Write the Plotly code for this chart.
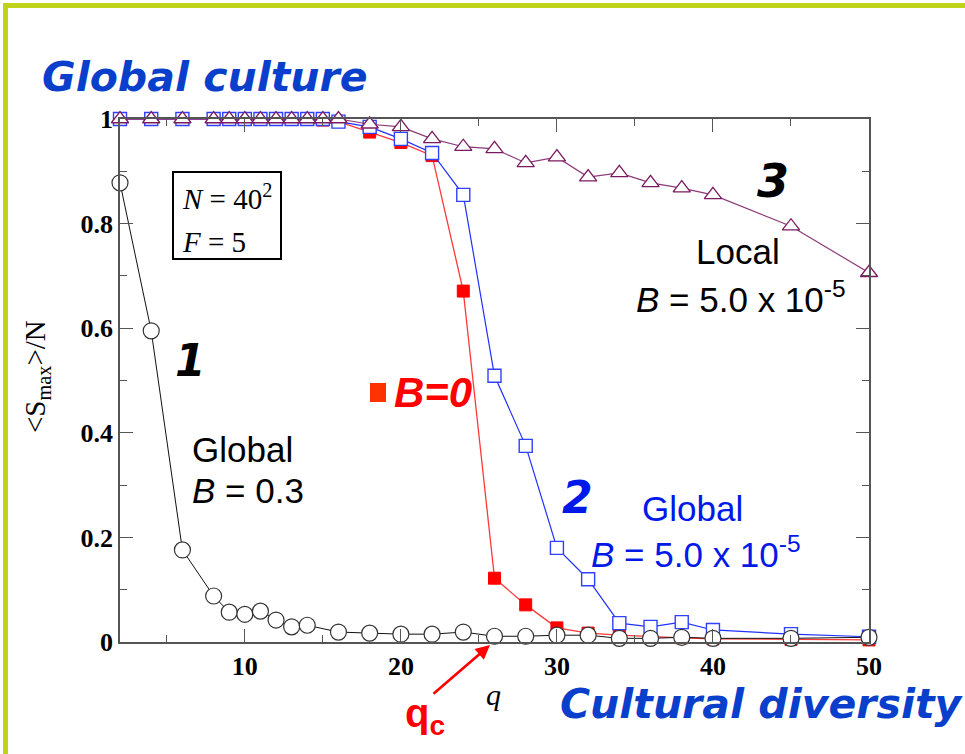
import plotly.graph_objects as go

# ---- data: <S_max>/N versus number of traits q ----
q_global_strong = [2, 4, 6, 8, 9, 10, 11, 12, 13, 14, 16, 18, 20, 22, 24, 26, 28, 30, 32, 34, 36, 38, 40, 45, 50]
s_global_strong = [0.878, 0.595, 0.176, 0.088, 0.057, 0.053, 0.059, 0.042, 0.029, 0.032, 0.019, 0.017,
                   0.015, 0.015, 0.019, 0.011, 0.011, 0.013, 0.013, 0.007, 0.007, 0.009, 0.007, 0.007, 0.009]

q_grid = [2, 4, 6, 8, 9, 10, 11, 12, 13, 14, 15, 16, 18, 20, 22, 24, 26, 28, 30, 32, 34, 36, 38, 40, 45, 50]
s_no_field = [1, 1, 1, 1, 1, 1, 1, 1, 1, 1, 0.998, 0.995, 0.975, 0.955, 0.93, 0.671, 0.122, 0.071,
              0.027, 0.017, 0.013, 0.010, 0.008, 0.006, 0.005, 0.004]
s_global_weak = [1, 1, 1, 1, 1, 1, 1, 1, 1, 1, 1, 0.995, 0.985, 0.962, 0.935, 0.855, 0.509, 0.375,
                 0.18, 0.12, 0.036, 0.029, 0.038, 0.023, 0.015, 0.01]
s_local_weak = [1, 1, 1, 1, 1, 1, 1, 1, 1, 1, 1, 1, 0.99, 0.985, 0.962, 0.947, 0.943, 0.916,
                0.927, 0.889, 0.897, 0.878, 0.868, 0.855, 0.795, 0.706]

x_ticks = [10, 20, 30, 40, 50]
y_ticks = [0, 0.2, 0.4, 0.6, 0.8, 1]
y_tick_text = ["0", "0.2", "0.4", "0.6", "0.8", "1"]

# ---- page geometry (pixels) ----
W, H = 965, 754
L, R, T, B = 120, 869, 119, 642


def px(x, y):
    """pixel position on the page -> paper coordinates"""
    return (x - L) / (R - L), 1 - (y - T) / (B - T)


SERIF = "Liberation Serif, Times New Roman, serif"
SANS = "Liberation Sans, Arial, sans-serif"
FUN = "Comic Sans MS, DejaVu Sans, sans-serif"

fig = go.Figure()

fig.add_trace(go.Scatter(
    x=q_grid, y=s_no_field, mode="lines+markers", cliponaxis=False,
    line=dict(color="#ff3838", width=1.3),
    marker=dict(symbol="square", size=12, color="#ff0000", line=dict(color="#ff0000", width=1)),
    showlegend=False))
fig.add_trace(go.Scatter(
    x=q_grid, y=s_global_weak, mode="lines+markers", cliponaxis=False,
    line=dict(color="#2030ff", width=1.2),
    marker=dict(symbol="square", size=13, color="white", line=dict(color="#3040ff", width=1.4)),
    showlegend=False))
fig.add_trace(go.Scatter(
    x=q_global_strong, y=s_global_strong, mode="lines+markers", cliponaxis=False,
    line=dict(color="#111111", width=1),
    marker=dict(symbol="circle", size=16, color="white", line=dict(color="#333333", width=1.2)),
    showlegend=False))
fig.add_trace(go.Scatter(
    x=q_grid, y=s_local_weak, mode="lines+markers", cliponaxis=False,
    line=dict(color="#8a3a78", width=1.2),
    marker=dict(symbol="triangle-up", size=15, color="white", line=dict(color="#7a1a60", width=1.3)),
    showlegend=False))

axis_common = dict(
    showline=True, linecolor="#555555", linewidth=1.5, mirror="allticks",
    ticks="inside", ticklen=13, tickcolor="#555555", tickwidth=1.3,
    showgrid=False, zeroline=False,
    tickfont=dict(family=SERIF, size=26, color="black", weight="bold"),
)

fig.update_xaxes(range=[2, 50], tickvals=x_ticks,
                 minor=dict(ticks="inside", ticklen=7, dtick=5, tick0=0, tickcolor="#555555", showgrid=False),
                 **axis_common)
fig.update_yaxes(range=[0, 1], tickvals=y_ticks, ticktext=y_tick_text,
                 minor=dict(ticks="inside", ticklen=7, dtick=0.1, tick0=0, tickcolor="#555555", showgrid=False),
                 **axis_common)

ann = []


def text(x, y, s, size, color="black", family=SANS, xanchor="left", angle=0):
    xp, yp = px(x, y)
    ann.append(dict(x=xp, y=yp, xref="paper", yref="paper", text=s, showarrow=False,
                    xanchor=xanchor, yanchor="middle", textangle=angle,
                    font=dict(family=family, size=size, color=color)))


BLUE_TITLE = "#0a3fcc"
text(40, 77, "<b><i>Global culture</i></b>", 41, BLUE_TITLE, FUN)
text(558, 704, "<b><i>Cultural diversity</i></b>", 41, BLUE_TITLE, FUN)

# axis titles
text(37, 377, "&lt;S<sub>max</sub>&gt;/N", 29, "black", SERIF, "center", -90)
text(493, 694, "<i>q</i>", 30, "black", SERIF, "center")

# curve labels
text(190, 360, "<b><i>1</i></b>", 44, "black", FUN, "center")
text(190, 449, "Global", 35)
text(190, 490, "<i>B</i> = 0.3", 35)

text(392, 392, "<b><i>B=0</i></b>", 42, "#ff0000", SANS)

text(577, 497, "<b><i>2</i></b>", 44, "#0018e8", FUN, "center")
text(640, 508, "Global", 35, "#0018e8")
text(589, 552, "<i>B</i> = 5.0 x 10<sup>-5</sup>", 35, "#0018e8")

text(773, 181, "<b><i>3</i></b>", 46, "black", FUN, "center")
text(694, 251, "Local", 35)
text(634, 297, "<i>B</i> = 5.0 x 10<sup>-5</sup>", 35)

# model parameters in the box
text(180, 197, "<i>N</i> = 40<sup>2</sup>", 29, "black", SERIF)
text(180, 242, "<i>F</i> = 5", 29, "black", SERIF)

# critical point marker
text(425, 716, "<b>q<sub>c</sub></b>", 40, "#ff0000", SANS, "center")
hx, hy = px(490, 645)
ann.append(dict(x=hx, y=hy, xref="paper", yref="paper", text="", showarrow=True,
                ax=-58, ay=50, arrowhead=2, arrowsize=1.1, arrowwidth=2.6, arrowcolor="#ff0000"))

shapes = []


def rect(x0, y0, x1, y1, **kw):
    a, b = px(x0, y0)
    c, d = px(x1, y1)
    shapes.append(dict(type="rect", xref="paper", yref="paper", x0=a, y0=b, x1=c, y1=d, **kw))


rect(173, 172, 281, 259, line=dict(color="black", width=2), fillcolor="white", layer="below")
rect(370, 383, 386, 402, line=dict(width=0), fillcolor="#ff3300")
# slide frame
rect(3, 3, 1000, 8, line=dict(width=0), fillcolor="#bfd31a")
rect(3, 3, 8, 800, line=dict(width=0), fillcolor="#bfd31a")

fig.update_layout(
    width=W, height=H,
    margin=dict(l=L, r=W - R, t=T, b=H - B),
    paper_bgcolor="white", plot_bgcolor="white",
    annotations=ann, shapes=shapes,
)

fig.write_html("out.html")
